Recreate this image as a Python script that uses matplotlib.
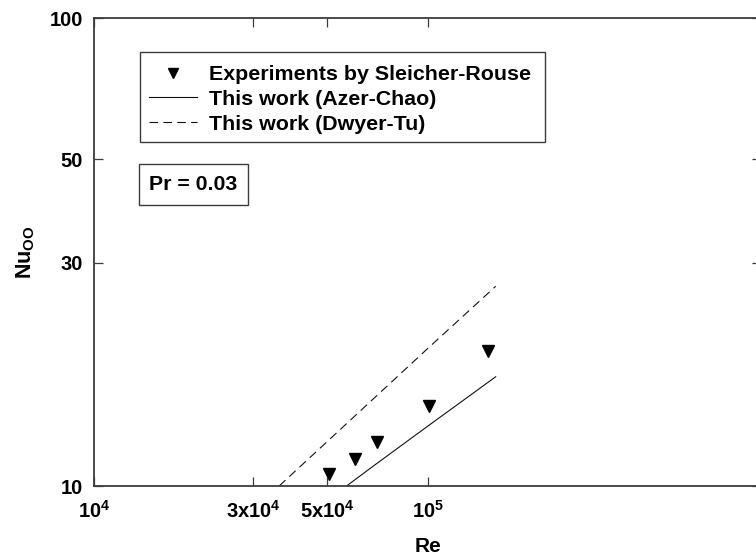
import matplotlib
matplotlib.use('Agg')
import matplotlib.pyplot as plt
from matplotlib.patches import Rectangle

plt.rcParams['font.family'] = ['Liberation Sans', 'DejaVu Sans']
plt.rcParams['font.weight'] = 'bold'
plt.rcParams['mathtext.fontset'] = 'custom'
plt.rcParams['mathtext.rm'] = 'Liberation Sans:bold'
plt.rcParams['mathtext.it'] = 'Liberation Sans:bold'
plt.rcParams['mathtext.bf'] = 'Liberation Sans:bold'

# Sleicher-Rouse experiments
re_exp = [5.05e4, 6.05e4, 7.05e4, 1.01e5, 1.52e5]
nu_exp = [10.63, 11.43, 12.43, 14.81, 19.42]

# This work, Azer-Chao correlation
re_azer = [5.71e4, 7.0e4, 1.0e5, 1.6e5]
nu_azer = [10.0, 11.14, 13.42, 17.12]

# This work, Dwyer-Tu correlation
re_dwyer = [3.585e4, 5.0e4, 1.0e5, 1.6e5]
nu_dwyer = [10.0, 12.45, 19.67, 26.73]

x_ticks = [1e4, 3e4, 5e4, 1e5]
x_labels = ['10$^{4}$', '3x10$^{4}$', '5x10$^{4}$', '10$^{5}$']
y_ticks = [10, 30, 50, 100]
y_labels = ['10', '30', '50', '100']

fig = plt.figure(figsize=(7.56, 5.56), dpi=100)
# right spine sits just past the image edge, like in the original scan
ax = fig.add_axes([94.3 / 756, 70 / 556, 666.7 / 756, 467.8 / 556])

ax.plot(re_exp, nu_exp, 'v', color='black', markersize=9, linestyle='none',
        label='Experiments by Sleicher-Rouse')
ax.plot(re_azer, nu_azer, '-', color='#111111', lw=0.8,
        label='This work (Azer-Chao)')
ax.plot(re_dwyer, nu_dwyer, color='#111111', lw=0.8,
        linestyle=(0, (7.7, 4.8)), label='This work (Dwyer-Tu)')

ax.set_xscale('log')
ax.set_yscale('log')
ax.set_xlim(1e4, 1e6)
ax.set_ylim(10, 100)

ax.set_xticks(x_ticks)
ax.set_xticklabels(x_labels)
ax.set_yticks(y_ticks)
ax.set_yticklabels(y_labels)
ax.minorticks_off()
ax.tick_params(axis='both', which='major', direction='in', length=6.5,
               width=0.9, color='#3c3c3c', top=True, right=True)
ax.tick_params(axis='x', labelsize=14.5, pad=10)
ax.tick_params(axis='y', labelsize=14.5, pad=8)

for sp in ax.spines.values():
    sp.set_color('#3c3c3c')
    sp.set_linewidth(1.3)

ax.set_xlabel('Re', fontsize=15, fontweight='bold')
ax.xaxis.set_label_coords(0.5, -0.109)
ax.set_ylabel(r'Nu$_{\mathrm{OO}}$', fontsize=15.5, fontweight='bold')
ax.yaxis.set_label_coords(-0.086, 0.5)

# legend without its own frame; the box is drawn separately so the
# padding above/below the rows can differ from the side padding
leg = ax.legend(loc='upper left', bbox_to_anchor=(0.0685, 0.918),
                fontsize=15.4, frameon=False, borderpad=0.4,
                handlelength=2.27, handletextpad=0.56, labelspacing=0.27,
                borderaxespad=0, markerscale=0.85)
ax.add_patch(Rectangle((0.0685, 0.7343), 0.6075, 0.1945,
                       transform=ax.transAxes, fill=False,
                       edgecolor='#3c3c3c', linewidth=1.0, zorder=5))

ax.text(0.1488, 0.6445, 'Pr = 0.03', transform=ax.transAxes, fontsize=15.3,
        fontweight='bold', ha='center', va='center',
        bbox=dict(boxstyle='square,pad=0.5', facecolor='white',
                  edgecolor='#3c3c3c', linewidth=1.0))

fig.savefig('out.png', dpi=100)
